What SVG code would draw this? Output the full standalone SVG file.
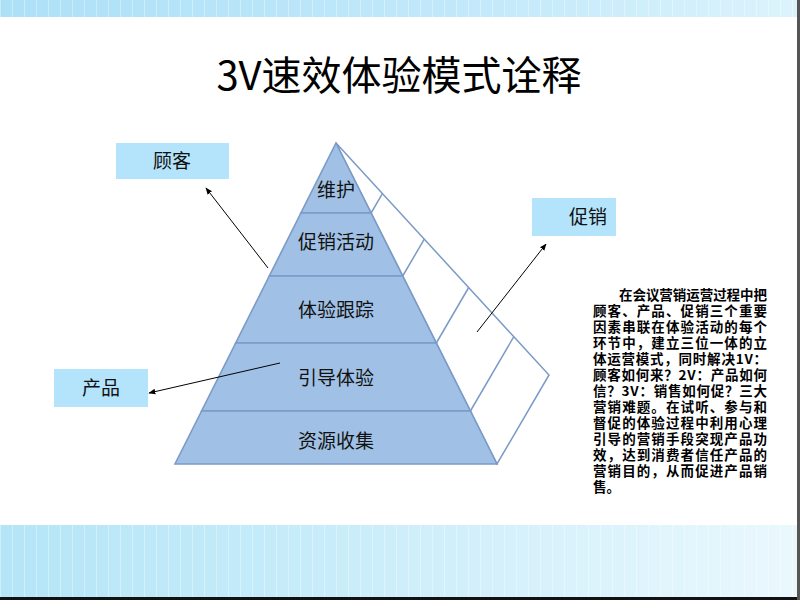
<svg xmlns="http://www.w3.org/2000/svg" width="800" height="600" viewBox="0 0 800 600">
<defs>
<linearGradient id="topband" x1="0" y1="0" x2="1" y2="0">
<stop offset="0" stop-color="#ade0f7"/><stop offset="0.6" stop-color="#c3e9fa"/><stop offset="1" stop-color="#dbf3fc"/>
</linearGradient>
<linearGradient id="botband" x1="0" y1="0" x2="1" y2="0">
<stop offset="0" stop-color="#b4e5f7"/><stop offset="0.5" stop-color="#cdeefa"/><stop offset="1" stop-color="#eaf8fd"/>
</linearGradient>
<pattern id="grid" width="12" height="40" patternUnits="userSpaceOnUse">
<line x1="0.5" y1="0" x2="0.5" y2="40" stroke="#ffffff" stroke-opacity="0.35" stroke-width="1"/>
</pattern>
<marker id="arr" viewBox="0 0 10 10" refX="9" refY="5" markerWidth="7" markerHeight="7" orient="auto-start-reverse" markerUnits="userSpaceOnUse">
<path d="M0,1 L10,5 L0,9 z" fill="#000"/>
</marker>
</defs>
<style>
.layer{fill:#a0c1e5;stroke:#7b9bc7;stroke-width:1.6}
.back{fill:#ffffff;stroke:#7b9bc7;stroke-width:1.5}
.lbl{font-family:"Noto Sans CJK SC","Noto Sans",sans-serif;font-size:19px;fill:#111;text-anchor:middle}
.box{fill:#b3e4fb}
.con{stroke:#000;stroke-width:1;fill:none}
.para{font-family:"Noto Sans CJK SC",sans-serif;font-size:13.5px;font-weight:bold;fill:#000}
.title{font-family:"Noto Sans CJK SC","Noto Sans",sans-serif;font-size:40px;fill:#000;text-anchor:middle}
</style>
<rect width="800" height="600" fill="#ffffff"/>
<rect x="0" y="0" width="800" height="17" fill="url(#topband)"/>
<rect x="0" y="0" width="800" height="17" fill="url(#grid)"/>
<rect x="0" y="525" width="800" height="72" fill="url(#botband)"/>
<rect x="0" y="525" width="800" height="72" fill="url(#grid)"/>
<rect x="0" y="597" width="800" height="3" fill="#111"/>
<rect x="797" y="0" width="3" height="600" fill="#555"/>

<text class="title" x="399" y="90">3V速效体验模式诠释</text>

<g id="pyramid-back">
<polygon class="back" points="336,143 549,375 497,464"/>
<line class="back" x1="371.1" y1="213" x2="382.4" y2="193.6"/>
<line class="back" x1="402.7" y1="276" x2="424.3" y2="239.1"/>
<line class="back" x1="436.3" y1="343" x2="468.7" y2="287.5"/>
<line class="back" x1="470.4" y1="411" x2="513.8" y2="336.7"/>
</g>
<g id="layer-weihu">
<polygon class="layer" points="336,143 371.1,213 300.9,213"/>
<text class="lbl" x="336" y="197">维护</text>
</g>
<g id="layer-cuxiao">
<polygon class="layer" points="300.9,213 371.1,213 402.7,276 269.3,276"/>
<text class="lbl" x="336" y="249">促销活动</text>
</g>
<g id="layer-tiyan">
<polygon class="layer" points="269.3,276 402.7,276 436.3,343 235.7,343"/>
<text class="lbl" x="336" y="317">体验跟踪</text>
</g>
<g id="layer-yindao">
<polygon class="layer" points="235.7,343 436.3,343 470.4,411 201.6,411"/>
<text class="lbl" x="336" y="385">引导体验</text>
</g>
<g id="layer-ziyuan">
<polygon class="layer" points="201.6,411 470.4,411 497,464 175,464"/>
<text class="lbl" x="336" y="448">资源收集</text>
</g>

<g id="box-guke">
<rect class="box" x="116" y="143" width="113" height="36"/>
<text class="lbl" x="172" y="168">顾客</text>
</g>
<g id="box-cuxiao">
<rect class="box" x="532" y="198" width="84" height="38"/>
<text class="lbl" x="588" y="224">促销</text>
</g>
<g id="box-chanpin">
<rect class="box" x="54" y="369" width="94" height="38"/>
<text class="lbl" x="101" y="395">产品</text>
</g>

<g id="connectors">
<line class="con" x1="268" y1="268" x2="206" y2="188" marker-end="url(#arr)"/>
<line class="con" x1="280" y1="363" x2="149" y2="393" marker-end="url(#arr)"/>
<line class="con" x1="477" y1="332" x2="546" y2="244" marker-end="url(#arr)"/>
</g>

<g id="description">
<text class="para"><tspan x="619" y="300" textLength="148" lengthAdjust="spacing">在会议营销运营过程中把</tspan><tspan x="593" y="316" textLength="174" lengthAdjust="spacing">顾客、产品、促销三个重要</tspan><tspan x="593" y="332" textLength="174" lengthAdjust="spacing">因素串联在体验活动的每个</tspan><tspan x="593" y="348" textLength="174" lengthAdjust="spacing">环节中，建立三位一体的立</tspan><tspan x="593" y="364" textLength="174" lengthAdjust="spacing">体运营模式，同时解决1V：</tspan><tspan x="593" y="380" textLength="174" lengthAdjust="spacing">顾客如何来？2V：产品如何</tspan><tspan x="593" y="396" textLength="174" lengthAdjust="spacing">信？3V：销售如何促？三大</tspan><tspan x="593" y="412" textLength="174" lengthAdjust="spacing">营销难题。在试听、参与和</tspan><tspan x="593" y="428" textLength="174" lengthAdjust="spacing">督促的体验过程中利用心理</tspan><tspan x="593" y="444" textLength="174" lengthAdjust="spacing">引导的营销手段突现产品功</tspan><tspan x="593" y="460" textLength="174" lengthAdjust="spacing">效，达到消费者信任产品的</tspan><tspan x="593" y="476" textLength="174" lengthAdjust="spacing">营销目的，从而促进产品销</tspan><tspan x="593" y="492">售。</tspan></text>
</g>
</svg>
